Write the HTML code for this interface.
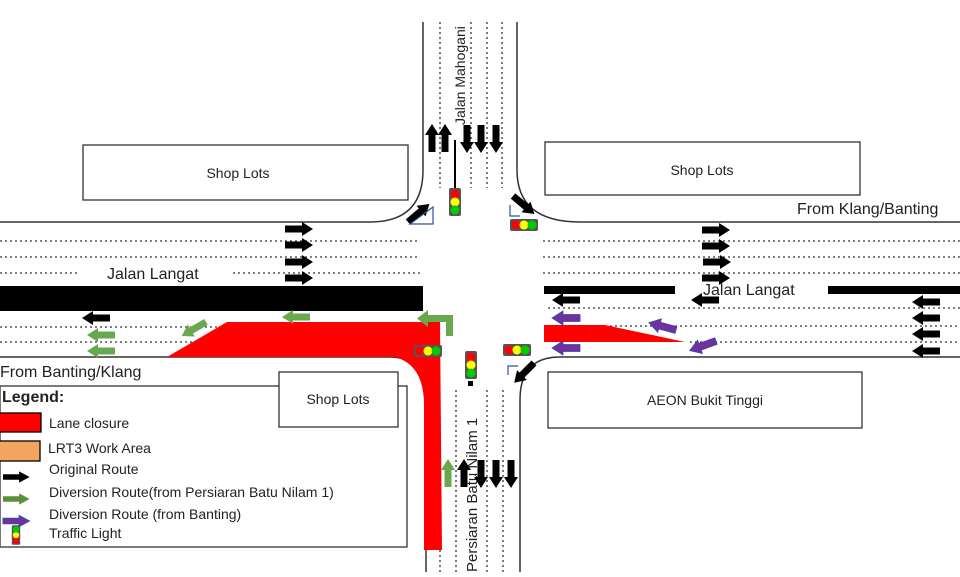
<!DOCTYPE html>
<html><head><meta charset="utf-8"><style>
html,body{margin:0;padding:0;background:#fff;}
svg{display:block;font-family:"Liberation Sans",sans-serif;}
</style></head><body>
<svg width="960" height="577" viewBox="0 0 960 577" xmlns="http://www.w3.org/2000/svg">
<defs>
<path id="ar" d="M0,-3.5 H17 V-7 L28,0 L17,7 V3.5 H0 Z"/>
<g id="tl"><rect x="-14" y="-6" width="28" height="12" rx="2" fill="#555"/><circle cx="-8" cy="0" r="4.5" fill="#f00"/><circle cx="0" cy="0" r="4.5" fill="#ff0"/><circle cx="8" cy="0" r="4.5" fill="#0c0"/></g>
</defs>
<g fill="none" stroke="#333" stroke-width="1.5">
<path d="M423,22 V170 Q423,222 370,222 H0"/>
<path d="M517,22 V170 Q517,222 580,222 H960"/>
<path d="M0,357 H390 Q424,357 426,400 V572"/>
<path d="M960,357 H560 Q520,357 520,400 V572"/>
</g>
<g stroke="#333" stroke-width="1.3" stroke-dasharray="2,3">
<line x1="440" y1="22" x2="440" y2="188"/><line x1="471" y1="22" x2="471" y2="188"/><line x1="487" y1="22" x2="487" y2="188"/><line x1="502" y1="22" x2="502" y2="188"/>
<line x1="0" y1="241" x2="420" y2="241"/><line x1="0" y1="257" x2="420" y2="257"/>
<line x1="0" y1="273" x2="78" y2="273"/><line x1="233" y1="273" x2="420" y2="273"/>
<line x1="0" y1="327" x2="230" y2="327"/><line x1="0" y1="342" x2="200" y2="342"/>
<line x1="543" y1="241" x2="960" y2="241"/><line x1="543" y1="257" x2="960" y2="257"/><line x1="543" y1="273" x2="960" y2="273"/>
<line x1="548" y1="308" x2="960" y2="308"/><line x1="610" y1="326" x2="960" y2="326"/><line x1="690" y1="342" x2="960" y2="342"/>
<line x1="440" y1="550" x2="440" y2="572"/><line x1="456" y1="390" x2="456" y2="572"/><line x1="487" y1="390" x2="487" y2="572"/><line x1="503" y1="390" x2="503" y2="572"/>
</g>
<line x1="455" y1="140" x2="455" y2="188" stroke="#000" stroke-width="2"/>
<rect x="0" y="286" width="423" height="25" fill="#000"/>
<rect x="544" y="286" width="131" height="8" fill="#000"/>
<rect x="828" y="286" width="132" height="8" fill="#000"/>
<path d="M167,357 L227,322 H440 L442,550 H424 V405 Q424,365 395,357 Z" fill="#f00"/>
<path d="M544,325 H605 L685,342 H544 Z" fill="#f00"/>
<g fill="#fff" stroke="#333" stroke-width="1.3">
<rect x="83" y="145" width="325" height="55"/>
<rect x="545" y="142" width="315" height="53"/>
<rect x="0" y="386" width="407" height="161"/>
<rect x="279" y="372" width="119" height="55"/>
<rect x="548" y="372" width="314" height="56"/>
</g>
<g font-size="14" fill="#222">
<text x="238" y="178" text-anchor="middle">Shop Lots</text>
<text x="702" y="175" text-anchor="middle">Shop Lots</text>
<text x="338" y="404" text-anchor="middle">Shop Lots</text>
<text x="705" y="405" text-anchor="middle">AEON Bukit Tinggi</text>
</g>
<g font-size="16" fill="#222">
<text x="107" y="279">Jalan Langat</text>
<text x="703" y="295">Jalan Langat</text>
<text x="0" y="377">From Banting/Klang</text>
<text x="797" y="214">From Klang/Banting</text>
<text transform="translate(465,125) rotate(-90)" font-size="14">Jalan Mahogani</text>
<text transform="translate(477,572) rotate(-90)" font-size="15">Persiaran Batu Nilam 1</text>
</g>
<text x="2" y="402" font-size="16" font-weight="bold" fill="#222">Legend:</text>
<rect x="-1" y="413" width="42" height="19" fill="#f00" stroke="#000" stroke-width="1.3"/>
<rect x="-1" y="441" width="41" height="20" fill="#f4a460" stroke="#000" stroke-width="1.3"/>
<g font-size="14" fill="#222">
<text x="49" y="428">Lane closure</text>
<text x="48" y="453">LRT3 Work Area</text>
<text x="49" y="474">Original Route</text>
<text x="49" y="497">Diversion Route(from Persiaran Batu Nilam 1)</text>
<text x="49" y="519">Diversion Route (from Banting)</text>
<text x="49" y="538">Traffic Light</text>
</g>
<use href="#ar" transform="translate(3,477) scale(0.95,0.8)" fill="#000"/>
<use href="#ar" transform="translate(3,499) scale(0.95,0.8)" fill="#5b8f3c"/>
<use href="#ar" transform="translate(3,521) scale(0.95,0.8)" fill="#7030a0" stroke="#2f4f9f"/>
<use href="#tl" transform="translate(16,535) rotate(-90) scale(0.7)"/>
<g fill="#000">
<use href="#ar" transform="translate(285,229)"/><use href="#ar" transform="translate(285,245)"/><use href="#ar" transform="translate(285,262)"/><use href="#ar" transform="translate(285,278)"/>
<use href="#ar" transform="translate(702,230)"/><use href="#ar" transform="translate(702,246)"/><use href="#ar" transform="translate(703,262)"/><use href="#ar" transform="translate(702,278)"/>
<use href="#ar" transform="translate(110,318) rotate(180)"/>
<use href="#ar" transform="translate(580,300) rotate(180)"/>
<use href="#ar" transform="translate(719,300) rotate(180)"/>
<use href="#ar" transform="translate(940,302) rotate(180)"/><use href="#ar" transform="translate(940,318) rotate(180)"/><use href="#ar" transform="translate(940,334) rotate(180)"/><use href="#ar" transform="translate(940,351) rotate(180)"/>
<use href="#ar" transform="translate(432,152) rotate(-90)"/><use href="#ar" transform="translate(445,152) rotate(-90)"/>
<use href="#ar" transform="translate(467,125) rotate(90)"/><use href="#ar" transform="translate(481,125) rotate(90)"/><use href="#ar" transform="translate(496,125) rotate(90)"/>
<use href="#ar" transform="translate(464,487) rotate(-90)"/><use href="#ar" transform="translate(481,460) rotate(90)"/><use href="#ar" transform="translate(496,460) rotate(90)"/><use href="#ar" transform="translate(511,460) rotate(90)"/>
<use href="#ar" transform="translate(408,222) rotate(-40)"/>
<use href="#ar" transform="translate(513,196) rotate(40)"/>
<use href="#ar" transform="translate(534,363) rotate(135)"/>
</g>
<g fill="#6aa84f">
<use href="#ar" transform="translate(115,335) rotate(180)"/>
<use href="#ar" transform="translate(115,351) rotate(180)"/>
<use href="#ar" transform="translate(310,317) rotate(180)"/>
<use href="#ar" transform="translate(206,322) rotate(150)"/>
<use href="#ar" transform="translate(448,487) rotate(-90)"/>
<path d="M453,315 V336 H446 V322 H428 V327 L417,318.5 L428,310 V315 Z"/>
</g>
<g fill="#7030a0" stroke="#2f4f9f" stroke-width="0.8">
<use href="#ar" transform="translate(580,318) rotate(180)"/>
<use href="#ar" transform="translate(580,348) rotate(180)"/>
<use href="#ar" transform="translate(676,330) rotate(195)"/>
<use href="#ar" transform="translate(716,341) rotate(160)"/>
</g>
<g fill="none" stroke="#2f4f9f" stroke-width="1.2">
<path d="M410,224 L433,224 L433,207 Z"/>
<path d="M510,205 L510,216 L520,216"/>
<path d="M508,375 L508,366 L518,366"/>
</g>
<use href="#tl" transform="translate(455,202) rotate(90)"/>
<use href="#tl" transform="translate(524,225)"/>
<use href="#tl" transform="translate(428,351)"/>
<use href="#tl" transform="translate(517,350)"/>
<use href="#tl" transform="translate(471,365) rotate(90)"/>
<rect x="468" y="381" width="5" height="5" fill="#000"/>
</svg>
</body></html>
